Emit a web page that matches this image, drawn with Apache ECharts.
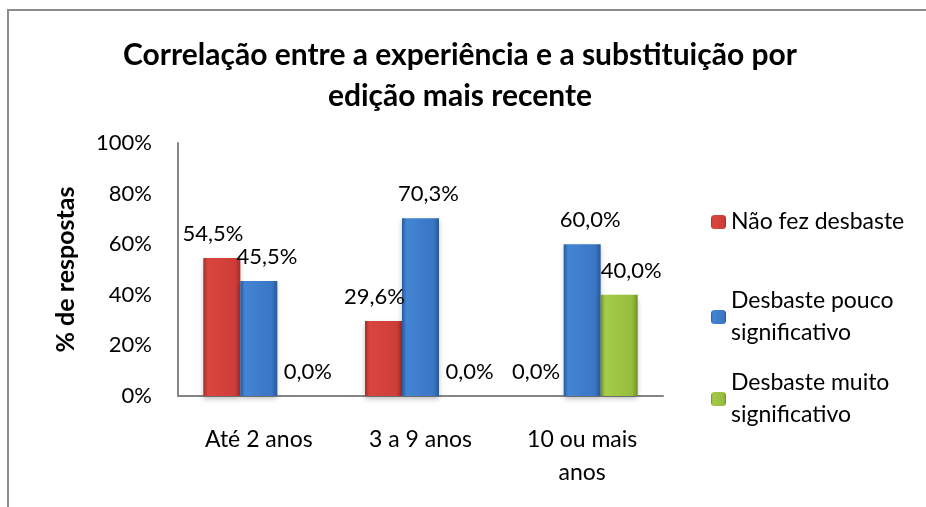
<!DOCTYPE html>
<html>
<head>
<meta charset="utf-8">
<script src="https://cdn.jsdelivr.net/npm/echarts@6/dist/echarts.min.js"></script>
<style>
  html, body { margin: 0; padding: 0; background: #fff; }
  #chart { width: 926px; height: 507px; }
</style>
</head>
<body>
<div id="chart"></div>
<script>
// dados do gráfico
var categorias = ['Até 2 anos', '3 a 9 anos', '10 ou mais\nanos'];
var naoFez = [54.5, 29.6, 0.0];
var poucoSignif = [45.5, 70.3, 60.0];
var muitoSignif = [0.0, 0.0, 40.0];
var nomesSeries = ['Não fez desbaste', 'Desbaste pouco\nsignificativo', 'Desbaste muito\nsignificativo'];
var ticksY = [0, 20, 40, 60, 80, 100];

var fonte = 'Lato, "Open Sans", sans-serif';

function grad(c1, c2, c3) { // gradiente horizontal tipo Excel
    return new echarts.graphic.LinearGradient(0, 0, 1, 0, [
        { offset: 0, color: c3 },
        { offset: 0.12, color: c1 },
        { offset: 0.85, color: c2 },
        { offset: 1, color: c3 }
    ]);
}

function fmtPct(p) {
    return p.value.toFixed(1).replace('.', ',') + '%';
}

function rotulo(dx) {
    return {
        show: true,
        position: 'top',
        distance: 13,
        offset: [dx, 0],
        formatter: fmtPct,
        fontFamily: fonte,
        fontSize: 22,
        color: '#000'
    };
}

var sombra = {
    shadowColor: 'rgba(0,0,0,0.25)',
    shadowBlur: 5,
    shadowOffsetY: 3
};

var chart = echarts.init(document.getElementById('chart'));

var option = {
    backgroundColor: '#fff',
    animation: false,
    title: {
        text: 'Correlação entre a experiência e a substituição por\nedição mais recente',
        left: 455,
        top: 30,
        textAlign: 'center',
        textStyle: {
            fontFamily: fonte,
            fontSize: 30,
            fontWeight: 'bold',
            color: '#000',
            lineHeight: 41
        }
    },
    graphic: [{
        type: 'polyline',
        shape: { points: [[8, 507], [8, 10], [926, 10]] },
        style: { stroke: '#8c8c8c', lineWidth: 2, fill: null }
    }],
    legend: [{
        orient: 'vertical',
        left: 706,
        top: 201,
        itemWidth: 15,
        itemHeight: 14,
        data: [nomesSeries[0]],
        textStyle: { fontFamily: fonte, fontSize: 23, color: '#000', lineHeight: 32 }
    }, {
        orient: 'vertical',
        left: 706,
        top: 264,
        itemWidth: 15,
        itemHeight: 14,
        itemGap: -14,
        data: [nomesSeries[1], nomesSeries[2]],
        textStyle: { fontFamily: fonte, fontSize: 23, color: '#000', lineHeight: 32, padding: [32, 0, 0, 0] }
    }],
    grid: {
        left: 178,
        right: 263,
        top: 143,
        bottom: 111,
        containLabel: false
    },
    xAxis: {
        type: 'category',
        data: categorias,
        axisLine: { lineStyle: { color: '#868686', width: 2 } },
        axisTick: { show: false },
        axisLabel: {
            fontFamily: fonte,
            fontSize: 23,
            color: '#000',
            margin: 27,
            lineHeight: 33
        }
    },
    yAxis: {
        type: 'value',
        min: ticksY[0],
        max: ticksY[ticksY.length - 1],
        interval: 20,
        name: '% de respostas',
        nameLocation: 'middle',
        nameRotate: 90,
        nameGap: 100,
        nameTextStyle: {
            fontFamily: fonte,
            fontSize: 25,
            fontWeight: 'bold',
            color: '#000'
        },
        axisLine: { show: true, lineStyle: { color: '#868686', width: 2 } },
        axisTick: { show: false },
        splitLine: { show: false },
        axisLabel: {
            fontFamily: fonte,
            fontSize: 22,
            color: '#000',
            margin: 26,
            formatter: '{value}%'
        }
    },
    series: [{
        name: nomesSeries[0],
        type: 'bar',
        data: naoFez,
        barWidth: 37,
        barGap: '0%',
        itemStyle: Object.assign({ color: grad('#d9463f', '#cf3d39', '#a52c29') }, sombra),
        label: rotulo(-9)
    }, {
        name: nomesSeries[1],
        type: 'bar',
        data: poucoSignif,
        barWidth: 37,
        barGap: '0%',
        itemStyle: Object.assign({ color: grad('#4385d4', '#3a76c4', '#28589a') }, sombra),
        label: rotulo(8)
    }, {
        name: nomesSeries[2],
        type: 'bar',
        data: muitoSignif,
        barWidth: 37,
        barGap: '0%',
        itemStyle: Object.assign({ color: grad('#a5cc48', '#95bd3c', '#6e8f2a') }, sombra),
        label: rotulo(12)
    }]
};

chart.setOption(option);
</script>
</body>
</html>
